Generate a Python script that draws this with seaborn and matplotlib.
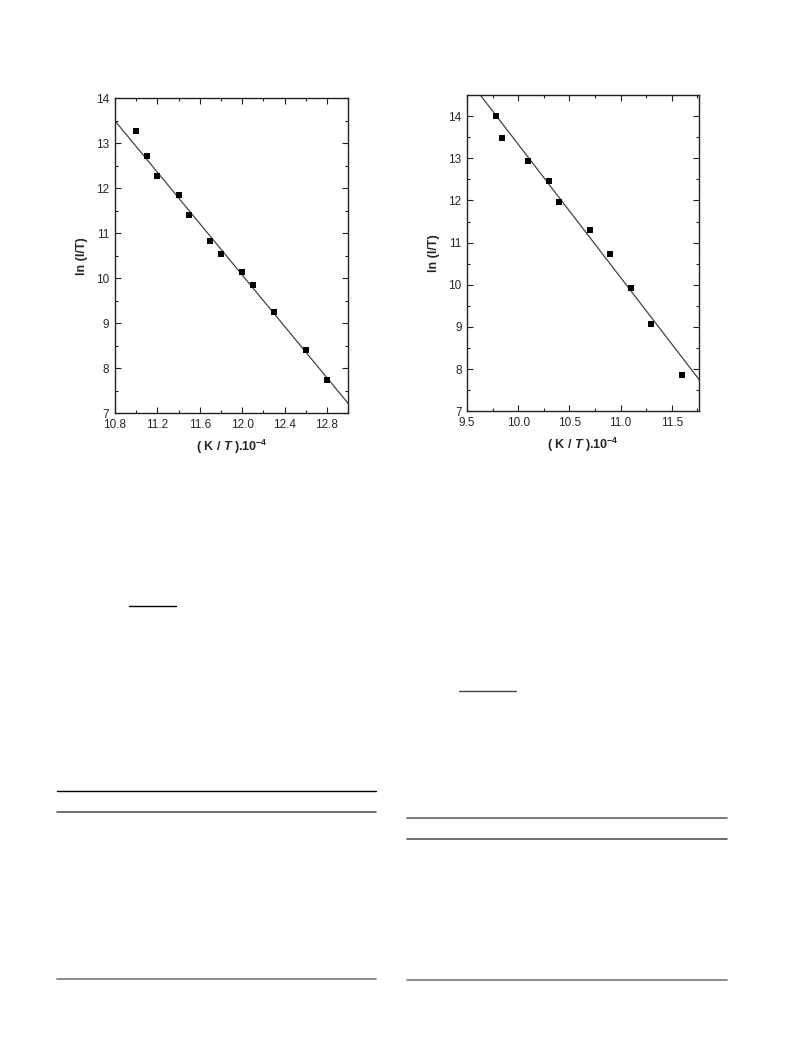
import matplotlib
matplotlib.use("Agg")
import matplotlib.pyplot as plt
import matplotlib.lines as mlines
from matplotlib.ticker import MultipleLocator
import pandas as pd
import seaborn as sns

sns.set_style("ticks")
plt.rcParams['font.family'] = ['Liberation Sans', 'DejaVu Sans']
plt.rcParams['mathtext.fontset'] = 'custom'
plt.rcParams['mathtext.rm'] = 'Liberation Sans'
plt.rcParams['mathtext.it'] = 'Liberation Sans:italic'
plt.rcParams['mathtext.bf'] = 'Liberation Sans:bold'
plt.rcParams['mathtext.bfit'] = 'Liberation Sans:bold:italic'

# --- left panel data ---
left_x = [11.0, 11.1, 11.2, 11.4, 11.5, 11.7, 11.8, 12.0, 12.1, 12.3, 12.6, 12.8]
left_y = [13.28, 12.72, 12.28, 11.85, 11.40, 10.83, 10.55, 10.15, 9.85, 9.25, 8.40, 7.75]
left_fit_x = [10.8, 13.0]
left_fit_y = [13.50, 7.22]

# --- right panel data ---
right_x = [9.78, 9.84, 10.1, 10.3, 10.4, 10.7, 10.9, 11.1, 11.3, 11.6]
right_y = [14.0, 13.48, 12.93, 12.47, 11.97, 11.30, 10.73, 9.93, 9.07, 7.85]
right_fit_x = [9.63, 11.77]
right_fit_y = [14.50, 7.74]

xlabel = r"( K / $\mathbfit{T}$ ).10$^{\mathbf{-4}}$"
ylabel = "ln (I/T)"

fig = plt.figure(figsize=(7.93, 10.57), dpi=100)

panels = [
    dict(rect=[0.145, 0.609, 0.294, 0.298], x=left_x, y=left_y, fx=left_fit_x, fy=left_fit_y,
         xlim=(10.8, 13.0), ylim=(7, 14), xmaj=0.4, xmin=0.2, lpad=5),
    dict(rect=[0.589, 0.611, 0.293, 0.299], x=right_x, y=right_y, fx=right_fit_x, fy=right_fit_y,
         xlim=(9.5, 11.77), ylim=(7, 14.5), xmaj=0.5, xmin=0.25, lpad=5),
]

for p in panels:
    ax = fig.add_axes(p['rect'])
    pts = pd.DataFrame({'x': p['x'], 'y': p['y']})
    fit = pd.DataFrame({'x': p['fx'], 'y': p['fy']})
    sns.lineplot(data=fit, x='x', y='y', ax=ax, color='#444444', linewidth=0.9)
    sns.scatterplot(data=pts, x='x', y='y', ax=ax, marker='s', s=22, color='black',
                    edgecolor='black', linewidth=0, zorder=3)
    ax.set_xlim(*p['xlim'])
    ax.set_ylim(*p['ylim'])
    ax.xaxis.set_major_locator(MultipleLocator(p['xmaj']))
    ax.xaxis.set_minor_locator(MultipleLocator(p['xmin']))
    ax.yaxis.set_major_locator(MultipleLocator(1))
    ax.yaxis.set_minor_locator(MultipleLocator(0.5))
    ax.xaxis.set_major_formatter(matplotlib.ticker.FormatStrFormatter("%.1f"))
    ax.tick_params(which='both', direction='in', top=True, right=True, labelsize=8.5,
                   color='#222222', width=0.8, pad=4)
    ax.tick_params(which='major', length=4)
    ax.tick_params(which='minor', length=2.5)
    for sp in ax.spines.values():
        sp.set_linewidth(1.0)
        sp.set_color('#222222')
    ax.set_xlabel(xlabel, fontsize=9, fontweight='bold', labelpad=p['lpad'])
    ax.set_ylabel(ylabel, fontsize=9, fontweight='bold', labelpad=6)

# page rules below the figures (x0, x1, y in pixels from top)
rules = [
    (129, 176, 606, 'black', 1.0),
    (57, 376, 791, 'black', 1.0),
    (57, 376, 812, '#555555', 1.2),
    (57, 376, 979, '#777777', 1.2),
    (459, 516, 691, '#444444', 1.0),
    (407, 727, 818, '#666666', 1.2),
    (407, 727, 839, '#555555', 1.2),
    (407, 727, 980, '#777777', 1.2),
]
W, H = 793, 1057
for x0, x1, y, c, lw in rules:
    fig.add_artist(mlines.Line2D([x0 / W, x1 / W], [1 - y / H, 1 - y / H],
                                 transform=fig.transFigure, color=c, linewidth=lw))

fig.savefig("out.png", dpi=100)
